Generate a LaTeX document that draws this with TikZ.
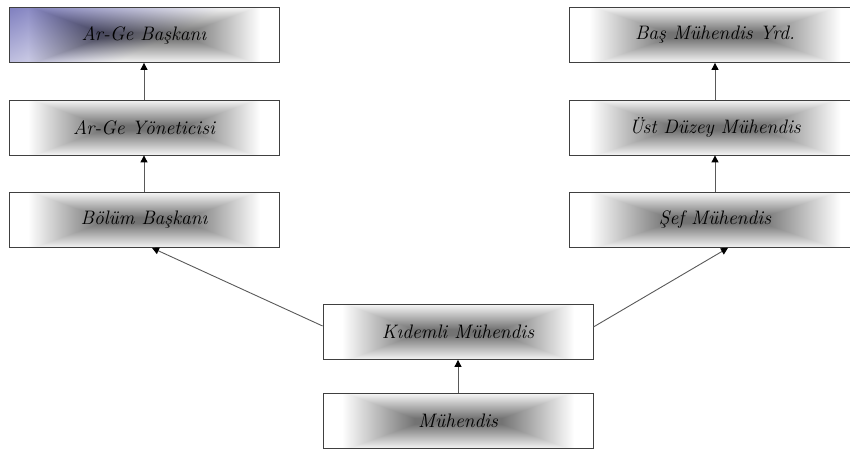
\documentclass[tikz,border=0pt]{standalone}
\usepackage{fontspec}
\usetikzlibrary{arrows.meta}
% gray glow: dark in the middle, white towards the sides
\pgfdeclarefunctionalshading{boxglow}{\pgfpoint{-50bp}{-50bp}}{\pgfpoint{50bp}{50bp}}{}{
  abs 25 div exch abs 25 div
  0.32 sub 0.54 div dup 0 lt {pop 0} if dup 1 gt {pop 1} if exch
  0.1 sub 0.9 div dup 0 lt {pop 0} if dup 1 gt {pop 1} if 0.93 mul
  2 copy lt {exch} if pop 0.55 mul 0.45 add dup dup}
% same glow with a blue corner at the top left
\pgfdeclarefunctionalshading{boxglowblue}{\pgfpoint{-50bp}{-50bp}}{\pgfpoint{50bp}{50bp}}{}{
  2 copy
  abs 25 div exch abs 25 div
  0.32 sub 0.54 div dup 0 lt {pop 0} if dup 1 gt {pop 1} if exch
  0.1 sub 0.9 div dup 0 lt {pop 0} if dup 1 gt {pop 1} if 0.93 mul
  2 copy lt {exch} if pop 0.55 mul 0.45 add
  3 1 roll
  25 exch sub 50 div 0.5 mul
  exch 25 add 50 div 1.25 mul
  add 1 exch sub dup 0 lt {pop 0} if
  2 copy 0.5 mul sub 3 1 roll 0.25 mul sub
  exch dup 3 -1 roll}
\tikzset{
  rank/.style={draw=black!75,line width=0.8pt,shading=boxglow,
    minimum width=270pt,minimum height=55pt,inner sep=0pt,
    font=\fontsize{19.5}{22}\selectfont\itshape},
  rankwide/.style={rank,minimum width=292pt},
  up/.style={draw=black!65,line width=0.9pt,-{Triangle[length=7pt,width=7pt,black]}}
}
\begin{document}
\begin{tikzpicture}[x=1pt,y=1pt]
\useasboundingbox (0,0) rectangle (850,451);
\def\lx{144}
\def\rx{715}
\def\mx{458}
% left column
\node[rank,shading=boxglowblue] (arge) at (\lx,416) {Ar-Ge Başkanı};
\node[rank] (argeyon) at (\lx,323.5) {Ar-Ge Yöneticisi};
\node[rank] (bolum) at (\lx,231) {Bölüm Başkanı};
% right column
\node[rankwide] (basyrd) at (\rx,416) {Baş Mühendis Yrd.};
\node[rankwide] (ustduzey) at (\rx,323.5) {Üst Düzey Mühendis};
\node[rankwide] (sef) at (\rx,231) {Şef Mühendis};
% middle
\node[rank] (kidemli) at (\mx,119) {Kıdemli Mühendis};
\node[rank] (muh) at (\mx,30) {Mühendis};
\draw[up] (argeyon) -- (arge);
\draw[up] (bolum) -- (argeyon);
\draw[up] (ustduzey) -- (basyrd);
\draw[up] (sef) -- (ustduzey);
\draw[up] (muh) -- (kidemli);
\draw[up] ([yshift=6pt]kidemli.west) -- ([xshift=8pt]bolum.south);
\draw[up] ([yshift=5pt]kidemli.east) -- ([xshift=13pt]sef.south);
\end{tikzpicture}
\end{document}
